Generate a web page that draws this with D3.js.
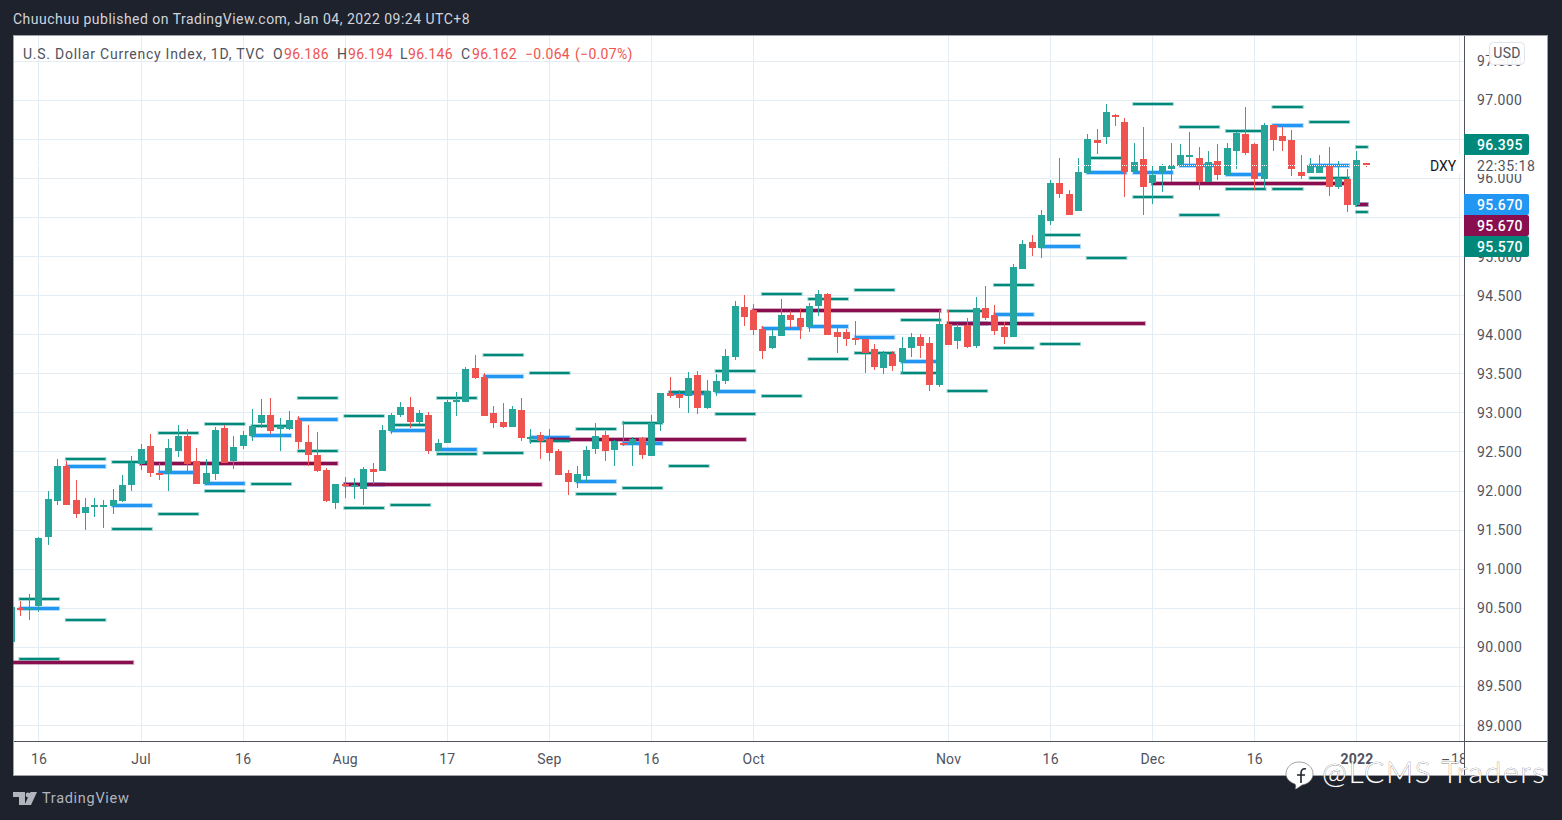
<!DOCTYPE html>
<html>
<head>
<meta charset="utf-8">
<script src="https://cdn.jsdelivr.net/npm/d3@7"></script>
<style>
html,body{margin:0;padding:0;background:#1e222d;}
svg{display:block;}
text{font-family:"Roboto","Liberation Sans",sans-serif;}
</style>
</head>
<body>
<svg id="chart" width="1562" height="820"></svg>
<script>
// Daily OHLC of the U.S. Dollar Currency Index, one entry per session.
const open = [
90.06,90.50,90.47,90.52,91.40,91.86,92.32,91.88,91.71,91.79,
91.80,91.80,91.86,92.07,92.34,92.57,92.23,92.23,92.50,92.70,
92.38,92.08,92.21,92.80,92.38,92.57,92.70,92.86,92.97,92.79,
92.79,92.90,92.62,92.45,92.26,91.84,92.08,92.04,92.02,92.27,
92.25,92.76,92.97,93.07,92.88,92.97,92.50,92.61,93.13,93.13,
93.57,93.45,92.99,92.88,92.81,93.03,92.67,92.71,92.66,92.50,
92.22,92.11,92.18,92.53,92.71,92.52,92.61,92.59,92.67,92.44,
92.86,93.25,93.24,93.21,93.48,93.06,93.26,93.40,93.71,94.35,
94.31,94.07,93.82,93.98,94.24,94.21,94.09,94.36,94.52,94.03,
94.03,93.95,93.94,93.81,93.57,93.75,93.65,93.82,93.97,93.89,
93.35,94.13,93.91,94.12,93.85,94.34,94.25,94.09,93.97,94.84,
95.18,95.11,95.45,95.94,95.80,95.58,96.06,96.49,96.52,96.81,
96.72,96.07,96.24,95.93,96.07,96.11,96.15,96.29,96.26,95.95,
96.22,96.04,96.35,96.56,96.44,95.99,96.68,96.54,96.48,96.07,
96.06,96.06,96.16,95.88,95.99,95.66,96.186];
const high = [
90.51,90.59,90.67,91.40,92.00,92.40,92.38,92.13,91.90,91.90,
91.88,92.02,92.20,92.44,92.59,92.73,92.35,92.66,92.84,92.79,
92.54,92.41,92.81,92.84,92.70,92.76,93.04,93.17,93.18,92.93,
93.02,92.95,92.84,92.75,92.29,92.08,92.17,92.16,92.30,92.35,
92.84,92.99,93.13,93.20,93.03,93.00,92.66,93.16,93.26,93.58,
93.74,93.50,93.08,93.12,93.08,93.18,92.79,92.75,92.79,92.53,
92.26,92.31,92.57,92.86,92.76,92.65,92.89,92.68,92.68,92.97,
93.25,93.45,93.29,93.52,93.53,93.41,93.49,93.81,94.43,94.50,
94.39,94.11,94.07,94.45,94.30,94.34,94.40,94.57,94.53,94.08,
94.07,94.17,93.94,93.88,93.79,93.79,93.97,94.02,94.00,93.97,
94.31,94.31,94.13,94.21,94.48,94.62,94.38,94.16,94.90,95.20,
95.27,95.59,95.98,96.25,95.85,96.25,96.56,96.62,96.94,96.82,
96.77,96.45,96.65,96.15,96.18,96.45,96.43,96.59,96.39,96.34,
96.43,96.45,96.59,96.91,96.45,96.70,96.69,96.65,96.61,96.29,
96.26,96.29,96.40,96.22,96.11,96.34,96.194];
const low = [
90.06,90.40,90.34,90.44,91.30,91.81,91.82,91.65,91.50,91.66,
91.52,91.70,91.85,92.00,92.26,92.17,92.13,92.00,92.43,92.23,
92.08,92.08,92.13,92.35,92.27,92.53,92.63,92.80,92.73,92.50,
92.77,92.53,92.31,92.24,91.85,91.77,91.91,91.89,91.81,92.09,
92.25,92.72,92.94,92.80,92.85,92.47,92.50,92.61,92.95,93.13,
93.43,92.95,92.80,92.80,92.81,92.63,92.59,92.40,92.38,92.20,
91.94,92.03,92.11,92.47,92.38,92.32,92.57,92.32,92.41,92.44,
92.76,93.18,93.06,92.99,92.98,93.04,93.21,93.36,93.67,94.11,
93.99,93.68,93.81,93.98,94.08,93.94,94.03,94.23,93.99,93.76,
93.85,93.86,93.50,93.54,93.49,93.53,93.49,93.71,93.70,93.27,
93.32,93.86,93.81,93.82,93.82,94.18,93.99,93.88,93.97,94.84,
95.00,94.97,95.40,95.74,95.52,95.58,96.06,96.31,96.44,96.66,
95.76,96.07,95.52,95.67,95.82,95.95,96.15,96.16,95.85,95.95,
95.98,96.03,96.11,96.30,95.85,95.86,96.34,96.35,96.03,95.99,
96.06,96.06,95.77,95.86,95.57,95.63,96.146];
const close = [
90.51,90.48,90.50,91.39,91.89,92.32,91.82,91.70,91.79,91.81,
91.82,91.88,92.07,92.35,92.53,92.22,92.22,92.54,92.70,92.34,
92.08,92.22,92.77,92.35,92.56,92.71,92.82,92.97,92.76,92.82,
92.90,92.62,92.45,92.25,91.86,92.08,92.06,92.07,92.27,92.24,
92.77,92.97,93.07,92.88,92.99,92.50,92.61,93.13,93.16,93.56,
93.44,92.95,92.86,92.81,93.04,92.67,92.68,92.63,92.48,92.20,
92.11,92.21,92.52,92.70,92.50,92.63,92.59,92.66,92.45,92.86,
93.25,93.21,93.18,93.44,93.06,93.27,93.40,93.72,94.36,94.22,
94.06,93.79,93.98,94.24,94.18,94.09,94.36,94.52,93.99,93.97,
93.94,93.94,93.76,93.58,93.76,93.59,93.82,93.97,93.85,93.35,
94.13,93.86,94.09,93.84,94.34,94.21,94.04,93.97,94.86,95.16,
95.11,95.53,95.93,95.80,95.52,96.07,96.50,96.45,96.85,96.79,
96.07,96.20,95.88,96.04,96.15,96.16,96.30,96.30,95.95,96.21,
96.04,96.38,96.57,96.32,95.99,96.68,96.49,96.47,96.11,96.03,
96.16,96.16,95.88,96.00,95.66,96.226,96.162];

// Weekly pivot levels: first session of each week, resistance, pivot, support.
const weekStart = [1,6,11,16,21,26,31,36,41,46,51,56,61,66,71,76,81,86,91,96,101,106,111,116,121,126,131,136,140,145];
const weekR1 = [90.61,92.41,92.37,92.74,92.85,92.83,93.19,92.96,92.84,93.19,93.73,93.51,92.79,92.86,93.26,93.53,94.51,94.45,94.56,94.18,94.30,94.63,95.27,96.25,96.95,96.65,96.60,96.91,96.72,96.395];
const weekPP = [90.50,92.32,91.81,92.24,92.10,92.71,92.91,92.09,92.78,92.53,93.46,92.68,92.12,92.61,93.25,93.28,94.08,94.11,93.96,93.66,94.14,94.26,95.13,96.07,96.08,96.16,96.05,96.68,96.16,95.67];
const weekS1 = [89.84,90.34,91.51,91.70,92.00,92.08,92.51,91.78,91.82,92.47,92.48,92.63,91.95,92.03,92.32,92.98,93.21,93.68,93.76,93.50,93.28,93.82,93.88,94.97,95.76,95.53,95.86,95.86,96.00,95.57];

// Monthly pivot levels.
const monthStart = [-6,14,36,58,80,101,123,145];
const monthEnd = [13,35,57,79,100,122,144,146];
const monthPP = [89.81,92.35,92.09,92.66,94.31,94.14,95.94,95.67];

// Axis ticks.
const priceTicks = [97.5,97,96.5,96,95.5,95,94.5,94,93.5,93,92.5,92,91.5,91,90.5,90,89.5,89];
const priceLabelTicks = [97.5,97,96,95,94.5,94,93.5,93,92.5,92,91.5,91,90.5,90,89.5,89];
const timeTicks = [3,14,25,36,47,58,69,80,101,112,123,134,145,156];
const timeLabels = ["16","Jul","16","Aug","17","Sep","16","Oct","Nov","16","Dec","16","2022","18"];

// Price tags on the right axis, top to bottom.
const tagValues = ["96.395","95.670","95.670","95.570"];
const tagColors = ["#00897b","#2196f3","#880e4f","#00897b"];

const upColor = "#26a69a", downColor = "#ef5350", gridColor = "#e3edf3";
const axisColor = "#50535e", labelColor = "#50535e";

const svg = d3.select("#chart");
const plot = {left:13, right:1464, top:36, bottom:741};

const x = d3.scaleLinear().domain([3,145]).range([38.95,1356.95]);
const y = d3.scaleLinear().domain([97,89]).range([100.3,725.5]);
const px = v => Math.floor(x(v));
const py = v => Math.floor(y(v));

svg.append("rect").attr("width",1562).attr("height",820).attr("fill","#1e222d");
svg.append("rect").attr("x",13.5).attr("y",35.5).attr("width",1534).attr("height",740)
  .attr("fill","#fff").attr("stroke","#9ea1a8").attr("stroke-width",1);

const defs = svg.append("defs");
defs.append("clipPath").attr("id","plotClip").append("rect")
  .attr("x",plot.left).attr("y",plot.top)
  .attr("width",plot.right-plot.left).attr("height",plot.bottom-plot.top);

const chart = svg.append("g").attr("clip-path","url(#plotClip)");

// Grid
chart.append("g").selectAll("line").data(priceTicks).join("line")
  .attr("x1",14).attr("x2",plot.right)
  .attr("y1",d=>py(d)+0.5).attr("y2",d=>py(d)+0.5)
  .attr("stroke",gridColor);
chart.append("g").selectAll("line").data(timeTicks).join("line")
  .attr("y1",plot.top).attr("y2",plot.bottom)
  .attr("x1",d=>px(d)+0.5).attr("x2",d=>px(d)+0.5)
  .attr("stroke",gridColor);

// A level line: soft halo underneath, solid core on top.
function level(g, i0, i1, v, color, w){
  const a = x(i0)-1, b = x(i1)+1.5, yy = py(v)+(w%2?0.5:0);
  g.append("line").attr("x1",a-1).attr("x2",b+1).attr("y1",yy).attr("y2",yy)
    .attr("stroke",color).attr("stroke-opacity",0.35).attr("stroke-width",w+2);
  g.append("line").attr("x1",a).attr("x2",b).attr("y1",yy).attr("y2",yy)
    .attr("stroke",color).attr("stroke-width",w);
}
const levels = chart.append("g");
weekStart.forEach((s,k)=>{
  const e = k+1<weekStart.length ? weekStart[k+1]-1 : 146;
  level(levels,s,e,weekPP[k],"#2196f3",3);
});
monthPP.forEach((v,k)=>level(levels,monthStart[k],monthEnd[k],v,"#880e4f",3));
weekStart.forEach((s,k)=>{
  const e = k+1<weekStart.length ? weekStart[k+1]-1 : 146;
  level(levels,s,e,weekR1[k],"#00897b",2);
  level(levels,s,e,weekS1[k],"#00897b",2);
});

// Candles
const bars = d3.range(open.length).map(i=>({i,o:open[i],h:high[i],l:low[i],c:close[i]}));
const candle = chart.append("g").selectAll("g").data(bars).join("g")
  .attr("fill",d=>d.c>=d.o?upColor:downColor);
candle.append("rect")
  .attr("x",d=>px(d.i)).attr("width",1)
  .attr("y",d=>py(d.h)).attr("height",d=>Math.max(1,py(d.l)-py(d.h)));
candle.append("rect")
  .attr("x",d=>px(d.i)-3).attr("width",7)
  .attr("y",d=>py(Math.max(d.o,d.c)))
  .attr("height",d=>Math.max(2,py(Math.min(d.o,d.c))-py(Math.max(d.o,d.c))));

// Last price marker: white dotted line across the plot
chart.append("line").attr("x1",14).attr("x2",plot.right)
  .attr("y1",py(close[close.length-1])+0.5).attr("y2",py(close[close.length-1])+0.5)
  .attr("stroke","#fff").attr("stroke-dasharray","1,1");

// Axes frame
svg.append("line").attr("x1",14).attr("x2",1547).attr("y1",741.5).attr("y2",741.5).attr("stroke",axisColor);
svg.append("line").attr("x1",1464.5).attr("x2",1464.5).attr("y1",36).attr("y2",775).attr("stroke",axisColor);

// Price axis
const yAxis = d3.axisRight(y).tickValues(priceLabelTicks).tickSize(0).tickPadding(0).tickFormat(d3.format(".3f"));
const yG = svg.append("g").attr("transform","translate(1477,-0.5)").call(yAxis);
yG.select(".domain").remove();
yG.selectAll("text").attr("font-size",14).attr("fill",labelColor)
  .attr("letter-spacing","0.35px").style("font-family","Roboto").attr("dy","0.36em");

// Time axis, with the label past the price axis clipped away
defs.append("clipPath").attr("id","timeClip").append("rect")
  .attr("x",14).attr("y",742).attr("width",1450).attr("height",33);
const tickIndex = new Map(timeTicks.map((t,k)=>[t,timeLabels[k]]));
const xAxis = d3.axisBottom(x).tickValues(timeTicks).tickSize(0).tickPadding(0).tickFormat(d=>tickIndex.get(d));
const xG = svg.append("g").attr("clip-path","url(#timeClip)")
  .append("g").attr("transform","translate(-0.5,753)").call(xAxis);
xG.select(".domain").remove();
xG.selectAll("text").attr("font-size",14).attr("fill",labelColor).attr("y",0).attr("dy","0.75em")
  .attr("letter-spacing","0.2px").style("font-family","Roboto")
  .attr("font-weight",d=>tickIndex.get(d)==="2022"?"700":"400");
svg.append("text").attr("x",1441).attr("y",765).attr("font-size",14).attr("fill",labelColor).text("–");

// Countdown strip and symbol name
svg.append("rect").attr("x",1465).attr("y",155).attr("width",81).attr("height",19).attr("fill","#fff");
svg.append("rect").attr("x",1426).attr("y",155).attr("width",38).attr("height",19).attr("fill","#fff").attr("fill-opacity",0.9);
svg.append("text").attr("x",1430).attr("y",170.5).attr("font-size",14).attr("fill","#131722").text("DXY");
svg.append("text").attr("x",1477).attr("y",170.5).attr("font-size",14).attr("fill",labelColor).attr("letter-spacing","0.55px").text("22:35:18");

// Price tags
const tagTops = [134,194,215,236];
const tags = svg.append("g").selectAll("g").data(tagValues).join("g")
  .attr("transform",(d,k)=>`translate(1464,${tagTops[k]})`);
tags.append("path").attr("d","M0,0H63a2,2 0 0 1 2,2V19a2,2 0 0 1 -2,2H0Z").attr("fill",(d,k)=>tagColors[k]);
tags.append("text").attr("x",13).attr("y",16).attr("font-size",14).attr("font-weight",500)
  .attr("letter-spacing","0.35px").attr("fill","#fff").text(d=>d);

// Currency button
svg.append("rect").attr("x",1489.5).attr("y",42.5).attr("width",35).attr("height",22).attr("rx",4)
  .attr("fill","#fff").attr("fill-opacity",0.92).attr("stroke","#e0e3eb");
svg.append("text").attr("x",1507).attr("y",58).attr("text-anchor","middle").attr("font-size",14)
  .attr("fill",labelColor).attr("letter-spacing","0.3px").text("USD");

// Header and OHLC legend
svg.append("text").attr("x",13).attr("y",24).attr("font-size",14).attr("fill","#d1d4dc")
  .attr("letter-spacing","0.48px")
  .text("Chuuchuu published on TradingView.com, Jan 04, 2022 09:24 UTC+8");

const legendGray = "#50535e", legendRed = "#ef5350";
const legendParts = [
  ["U.S. Dollar Currency Index, 1D, TVC",23,legendGray,0.75],
  ["O",273,legendGray,0.3],["96.186",284,legendRed,0.3],
  ["H",337,legendGray,0.3],["96.194",348,legendRed,0.3],
  ["L",400,legendGray,0.3],["96.146",408,legendRed,0.3],
  ["C",461,legendGray,0.3],["96.162",472,legendRed,0.3],
  ["−0.064",525,legendRed,0.3],["(−0.07%)",575,legendRed,0.3]];
svg.append("g").selectAll("text").data(legendParts).join("text")
  .attr("x",d=>d[1]).attr("y",59).attr("font-size",14).attr("fill",d=>d[2])
  .attr("letter-spacing",d=>d[3]+"px").text(d=>d[0]);

// Publisher logo and wordmark
svg.append("path").attr("fill","#b2b5be")
  .attr("d","M13,792H25V805H19V797H13Z M30.5,792H37L31,805H24.5Z");
svg.append("circle").attr("cx",28).attr("cy",795).attr("r",2.4).attr("fill","#b2b5be");
svg.append("text").attr("x",42).attr("y",803).attr("font-size",14.5).attr("fill","#b2b5be")
  .attr("letter-spacing","0.7px").text("TradingView");

// Account stamp in the corner
const stamp = svg.append("g");
stamp.append("path").attr("fill","#fff").attr("stroke","#666").attr("stroke-width",0.6)
  .attr("d","M1299,762c8,0,14,5,14,12c0,6,-5,10,-11,11c-3,2,-5,4,-7,4c1,-2,1,-3,0,-5c-6,-2,-9,-6,-9,-10c0,-7,6,-12,13,-12Z");
stamp.append("path").attr("fill","none").attr("stroke","#1e222d").attr("stroke-width",1.6)
  .attr("d","M1306,769c-3,-1,-5,1,-5,4v10 M1297,775h8");
stamp.append("text").attr("x",1322).attr("y",783).attr("font-size",30).attr("font-weight",300)
  .style("font-family","Lato").attr("fill","#fff").attr("stroke","#555").attr("stroke-width",0.5)
  .attr("paint-order","stroke").attr("textLength",223).text("@LCMS Traders");
</script>
</body>
</html>
